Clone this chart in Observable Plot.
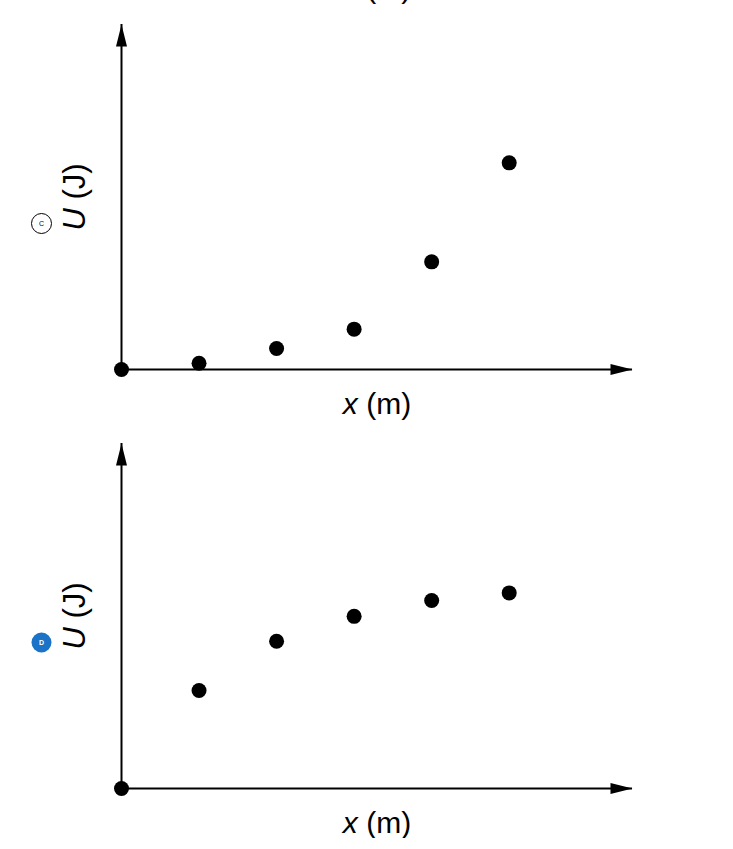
<!DOCTYPE html>
<html>
<head>
<meta charset="utf-8">
<script src="https://cdn.jsdelivr.net/npm/d3@7"></script>
<script src="https://cdn.jsdelivr.net/npm/@observablehq/plot@0.6"></script>
<style>
  html, body { margin: 0; padding: 0; background: white; }
  #chart svg { display: block; }
</style>
</head>
<body>
<div id="chart"></div>
<script>
// ---- data ----
const panels = ["C", "D"];
const xValues = [1, 2, 3, 4, 5];
const uPanelC = [0.18, 0.61, 1.17, 3.12, 5.99];
const uPanelD = [2.84, 4.27, 4.99, 5.45, 5.67];
const xLabel = "x (m)";
const yLabel = "U (J)";
const xMax = 6.59;
const yMax = 10;

const FONT = "'Liberation Sans', Arial, Helvetica, sans-serif";

// filled slender arrow head, tip at the anchor point, pointing up
const arrowHead = {
  draw(ctx) {
    ctx.moveTo(0, 0);
    ctx.lineTo(-5.5, 22);
    ctx.lineTo(5.5, 22);
    ctx.closePath();
  }
};

function italicFirst(svg, cls) {
  d3.select(svg).selectAll("." + cls + " text").each(function () {
    const t = d3.select(this);
    const s = t.text();
    t.text(null);
    t.append("tspan").attr("font-style", "italic").text(s.slice(0, 1));
    t.append("tspan").text(s.slice(1));
  });
}

function panel(letter, values, withTopCut) {
  const pts = [{x: 0, u: 0}, ...xValues.map((x, i) => ({x, u: values[i]}))];
  const blue = letter === "D";
  const marks = [
    Plot.ruleY([0], {x1: 0, x2: xMax, stroke: "black", strokeWidth: 2}),
    Plot.ruleX([0], {y1: 0, y2: yMax, stroke: "black", strokeWidth: 2}),
    Plot.dot([{x: xMax, u: 0}], {x: "x", y: "u", symbol: arrowHead, rotate: 90, fill: "black", stroke: "none"}),
    Plot.dot([{x: 0, u: yMax}], {x: "x", y: "u", symbol: arrowHead, fill: "black", stroke: "none"}),
    Plot.dot(pts, {x: "x", y: "u", r: 7.5, fill: "black", stroke: "none"}),
    Plot.text([xLabel], {text: d => d, frameAnchor: "bottom", textAnchor: "middle", lineAnchor: "bottom", dy: 44, fontSize: 30, fill: "black", className: "xlab"}),
    Plot.text([yLabel], {text: d => d, frameAnchor: "left", textAnchor: "middle", rotate: -90, lineAnchor: "bottom", dx: -37, fontSize: 31, fill: "black", className: "ylab"}),
    Plot.dot([letter], {frameAnchor: "left", dx: -80, dy: 26.5, r: 10,
      fill: blue ? "#1a73c6" : "white", stroke: blue ? "none" : "black", strokeWidth: 1}),
    Plot.text([letter], {text: d => d, frameAnchor: "left", textAnchor: "middle", lineAnchor: "middle", dx: -80, dy: 26.5, fontSize: 7,
      fontWeight: blue ? "bold" : "normal", fill: blue ? "white" : "black"})
  ];
  if (withTopCut) {
    marks.push(Plot.text([xLabel], {text: d => d, frameAnchor: "top", textAnchor: "middle", lineAnchor: "bottom", dy: -27, fontSize: 30, fill: "black", className: "xlab"}));
  }
  const svg = Plot.plot({
    width: 733,
    height: 419,
    marginLeft: 121,
    marginRight: 101,
    marginTop: 24,
    marginBottom: 50,
    style: {fontFamily: FONT, background: "white", overflow: "visible"},
    x: {domain: [0, xMax], axis: null},
    y: {domain: [0, yMax], axis: null},
    marks
  });
  italicFirst(svg, "xlab");
  italicFirst(svg, "ylab");
  return svg;
}

const chart = document.getElementById("chart");
chart.appendChild(panel(panels[0], uPanelC, true));
chart.appendChild(panel(panels[1], uPanelD, false));
</script>
</body>
</html>
